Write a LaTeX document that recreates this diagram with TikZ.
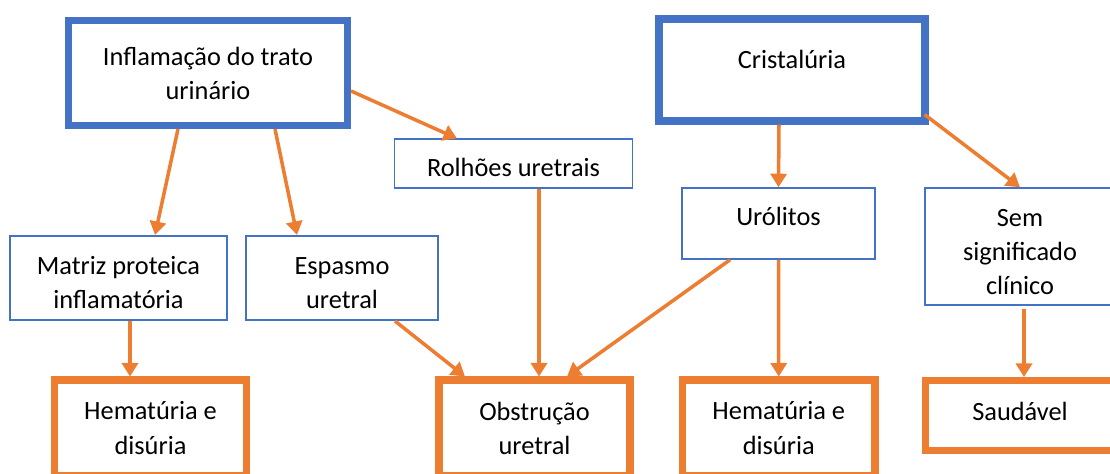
\documentclass[tikz,border=0pt]{standalone}
\usepackage{fontspec}
\setmainfont{Carlito}
\usetikzlibrary{arrows.meta}
\definecolor{boxblue}{HTML}{4472C4}
\definecolor{linkorange}{HTML}{ED7D31}
\newcommand{\padtop}{\rule{0pt}{0.55cm}}

\begin{document}
\begin{tikzpicture}[
  every node/.style={font=\fontsize{15}{19.4}\selectfont, align=center, inner sep=1pt},
  cause/.style={draw=boxblue, line width=4pt},
  middle/.style={draw=boxblue, line width=0.9pt},
  outcome/.style={draw=linkorange, line width=4pt},
  link/.style={draw=linkorange, line width=2pt, -{Triangle[width=0.32cm,length=0.27cm]}}]
\useasboundingbox (0,0) rectangle (22.2,-9.46);

\node[cause, minimum width=5.58cm, minimum height=2.10cm] (inflam) at (4.16,-1.46) {Inflamação do trato\\urinário};
\node[cause, minimum width=5.32cm, minimum height=2.04cm, text height=0.4cm, text depth=0.48cm] (crist) at (15.84,-1.40) {Cristalúria};
\node[middle, minimum width=4.76cm, minimum height=0.97cm, text height=0.6cm, text depth=0.1cm] (rolhoes) at (10.27,-3.27) {Rolhões uretrais};
\node[middle, minimum width=3.86cm, minimum height=1.42cm, text height=0.45cm, text depth=0.36cm] (urolitos) at (15.57,-4.47) {Urólitos};
\node[middle, minimum width=3.80cm, minimum height=2.34cm] (sem) at (20.40,-4.93) {\padtop Sem\\significado\\clínico};
\node[middle, minimum width=4.34cm, minimum height=1.69cm] (matriz) at (2.37,-5.56) {\padtop Matriz proteica\\inflamatória};
\node[middle, minimum width=3.84cm, minimum height=1.69cm] (espasmo) at (6.84,-5.56) {\padtop Espasmo\\uretral};
\node[outcome, minimum width=3.84cm, minimum height=1.92cm] (hemA) at (3.01,-8.56) {Hematúria e\\disúria};
\node[outcome, minimum width=3.82cm, minimum height=1.92cm] (obstr) at (10.69,-8.56) {Obstrução\\uretral};
\node[outcome, minimum width=3.85cm, minimum height=1.92cm] (hemB) at (15.575,-8.56) {Hematúria e\\disúria};
\node[outcome, minimum width=3.78cm, minimum height=1.40cm, text height=0.45cm, text depth=0.27cm] (saudavel) at (20.40,-8.31) {Saudável};

\path ([xshift=-0.6cm]inflam.south) edge[link] ([xshift=0.73cm]matriz.north);
\path ([xshift=1.34cm]inflam.south) edge[link] ([xshift=-0.9cm]espasmo.north);
\path ([yshift=-0.36cm]inflam.east) edge[link] ([xshift=-1.13cm]rolhoes.north);
\path ([xshift=0.51cm]rolhoes.south) edge[link] ([xshift=0.09cm]obstr.north);
\path ([xshift=1.06cm]espasmo.south) edge[link] ([xshift=-1.39cm]obstr.north);
\path ([xshift=-0.97cm]urolitos.south) edge[link] ([xshift=0.65cm]obstr.north);
\path ([xshift=0.23cm]matriz.south) edge[link] ([xshift=-0.41cm]hemA.north);
\path ([xshift=-0.26cm]crist.south) edge[link] (urolitos.north);
\path ([shift={(-0.08cm,0.2cm)}]crist.south east) edge[link] (sem.north);
\path (urolitos.south) edge[link] (hemB.north);
\path ([shift={(0.08cm,-0.06cm)}]sem.south) edge[link] ([xshift=0.08cm]saudavel.north);
\end{tikzpicture}
\end{document}
